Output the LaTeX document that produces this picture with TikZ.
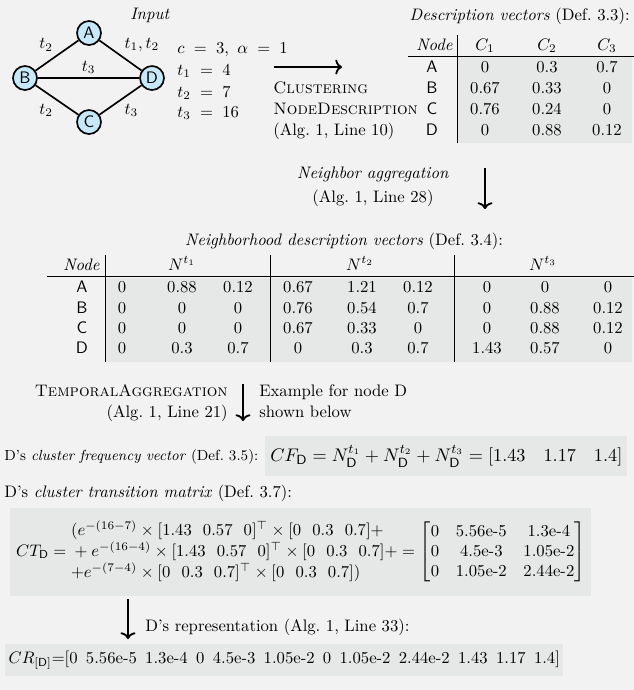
\documentclass[tikz,border=0pt]{standalone}
\usepackage{amsmath}
\usepackage{amssymb}
\usetikzlibrary{arrows,arrows.meta}

\definecolor{bggray}{RGB}{242,242,242}
\definecolor{cellgray}{RGB}{230,232,232}
\definecolor{vertexblue}{RGB}{198,232,248}

\newcommand{\ex}[2]{#1\text{e-}#2}

\begin{document}
\begin{tikzpicture}
  [x=0.6pt,y=-0.6pt,every node/.style={inner sep=0pt}]

  \tikzstyle{vertex} = [draw,circle,fill=vertexblue,line width=1pt,minimum size=14.4pt,font=\sffamily]
  \tikzstyle{lbl}  = [anchor=base]
  \tikzstyle{lblw} = [anchor=base west]
  \tikzstyle{lble} = [anchor=base east]
  \tikzstyle{flow} = [-{To[length=4pt,width=9pt]},line width=1.1pt]
  \tikzstyle{rule} = [line width=0.5pt]
  \tikzstyle{shade} = [fill=cellgray]

  \fill[bggray] (0,0) rectangle (634,690);
  \useasboundingbox (0,0) rectangle (634,690);

  % input graph
  \node[lbl] (input) at (150,19) {\textit{Input}};
  \node[vertex] (A) at (89,33)  {A};
  \node[vertex] (B) at (25,78)  {B};
  \node[vertex] (D) at (152,78) {D};
  \node[vertex] (C) at (89,122) {C};

  \path[line width=1pt]
        (B) edge node[auto,inner sep=2pt]      {$t_2$}       (A)
        (A) edge node[auto,inner sep=2pt]      {$t_1, t_2$}  (D)
        (B) edge node[auto,inner sep=2pt]      {$t_3$}       (D)
        (B) edge node[auto,swap,inner sep=2pt] {$t_2$}       (C)
        (C) edge node[auto,swap,inner sep=2pt] {$t_3$}       (D);

  \node[lblw] (par-c) at (177,53)  {$c \;=\; 3,\ \alpha \;=\; 1$};
  \node[lblw] (par-1) at (177,75)  {$t_1 \;=\; 4$};
  \node[lblw] (par-2) at (177,97)  {$t_2 \;=\; 7$};
  \node[lblw] (par-3) at (177,117) {$t_3 \;=\; 16$};

  % clustering step
  \coordinate (clu-s) at (274,67);
  \coordinate (clu-e) at (342,67);
  \draw[flow] (clu-s) -- (clu-e);
  \node[lblw] (clu-1) at (273,93)  {\textsc{Clustering}};
  \node[lblw] (clu-2) at (273,114) {\textsc{NodeDescription}};
  \node[lblw] (clu-3) at (273,135) {(Alg.~1, Line 10)};

  % description vectors
  \node[lble] (desc) at (630,20) {\textit{Description vectors} (Def.~3.3):};
  \fill[shade] (457,57) rectangle (632,143);
  \node[lble] (d-node) at (453,50) {\textit{Node}};
  \foreach \c/\x in {1/485,2/547,3/607}
    \node[lbl] (d-C\c) at (\x,50) {$C_\c$};
  \draw[rule] (457,35) -- (457,143);
  \draw[rule] (408,56) -- (634,56);
  \foreach \r/\y/\vals in {A/72/{0,0.3,0.7},B/93/{0.67,0.33,0},
                           C/114/{0.76,0.24,0},D/135/{0,0.88,0.12}}{
    \node[lbl,font=\sffamily] (d-\r) at (432,\y) {\r};
    \foreach \v [count=\i] in \vals {
      \pgfmathsetmacro\cx{{485,547,607}[\i-1]}
      \node[lbl] (d-\r-\i) at (\cx,\y) {\v};
    }
  }

  % neighbor aggregation
  \node[lbl] (agg-1) at (373,178) {\textit{Neighbor aggregation}};
  \node[lbl] (agg-2) at (373,202) {(Alg.~1, Line 28)};
  \coordinate (agg-s) at (485,168);
  \coordinate (agg-e) at (485,209);
  \draw[flow] (agg-s) -- (agg-e);

  % neighborhood description vectors
  \node[lbl] (nbh) at (344,245) {\textit{Neighborhood description vectors} (Def.~3.4):};
  \fill[shade] (105,278) rectangle (632,362);
  \node[lble] (n-node) at (100,270) {\textit{Node}};
  \foreach \t/\x in {1/182,2/360,3/543}
    \node[lbl] (n-N\t) at (\x,270) {$N^{t_\t}$};
  \foreach \x in {105,270,454}
    \draw[rule] (\x,255) -- (\x,362);
  \draw[rule] (47,276) -- (634,276);
  \foreach \r/\y/\vals in {A/292/{0,0.88,0.12,0.67,1.21,0.12,0,0,0},
                           B/313/{0,0,0,0.76,0.54,0.7,0,0.88,0.12},
                           C/333/{0,0,0,0.67,0.33,0,0,0.88,0.12},
                           D/353/{0,0.3,0.7,0,0.3,0.7,1.43,0.57,0}}{
    \node[lbl,font=\sffamily] (n-\r) at (82,\y) {\r};
    \foreach \v [count=\i] in \vals {
      \pgfmathsetmacro\cx{{122,182,238,298,362,418,487,545,608}[\i-1]}
      \node[lbl] (n-\r-\i) at (\cx,\y) {\v};
    }
  }

  % temporal aggregation
  \node[lble] (tmp-1) at (228,396) {\textsc{TemporalAggregation}};
  \node[lble] (tmp-2) at (228,417) {(Alg.~1, Line 21)};
  \coordinate (tmp-s) at (243,384);
  \coordinate (tmp-e) at (243,421);
  \draw[flow] (tmp-s) -- (tmp-e);
  \node[lblw] (ex-1) at (259,396) {Example for node D};
  \node[lblw] (ex-2) at (259,417) {shown below};

  % cluster frequency vector
  \node[lblw,font=\fontsize{8.8}{11}\selectfont] (cf-lbl) at (4,460) {D's \textit{cluster frequency vector} (Def.~3.5):};
  \node[fill=cellgray,anchor=west,inner xsep=3pt,minimum height=24pt,font=\fontsize{10.8}{13}\selectfont] (cf) at (265,456)
    {$CF_{\mathsf{D}} = N_{\mathsf{D}}^{t_1} + N_{\mathsf{D}}^{t_2} + N_{\mathsf{D}}^{t_3} = [1.43\ \ \ 1.17\ \ \ 1.4]$};

  % cluster transition matrix
  \node[lblw] (ct-lbl) at (4,497) {D's \textit{cluster transition matrix} (Def.~3.7):};
  \node[fill=cellgray,anchor=west,inner xsep=2pt,minimum height=52.8pt,minimum width=348.6pt] (ct) at (10,552)
    {$CT_{\mathsf{D}} = \begin{array}{@{}l@{}}
       (e^{-(16-7)} \times [1.43\ \ 0.57\ \ 0]^\top \times [0\ \ 0.3\ \ 0.7] + \\
       {}+ e^{-(16-4)} \times [1.43\ \ 0.57\ \ 0]^\top \times [0\ \ 0.3\ \ 0.7] + \\
       {+e^{-(7-4)}} \times [0\ \ 0.3\ \ 0.7]^\top \times [0\ \ 0.3\ \ 0.7])
     \end{array} = \begin{bmatrix}
       0 & \ex{5.56}{5} & \ex{1.3}{4} \\
       0 & \ex{4.5}{3} & \ex{1.05}{2} \\
       0 & \ex{1.05}{2} & \ex{2.44}{2}
     \end{bmatrix}$};

  % representation
  \coordinate (rep-s) at (128,599);
  \coordinate (rep-e) at (128,639);
  \draw[flow] (rep-s) -- (rep-e);
  \node[lblw] (rep) at (145,631) {D's representation (Alg.~1, Line 33):};
  \node[fill=cellgray,anchor=west,inner xsep=2pt,minimum height=19.2pt] (cr) at (5,660)
    {$CR_{[\mathsf{D}]}{=}[0\ \,\ex{5.56}{5}\ \,\ex{1.3}{4}\ \,0\ \,\ex{4.5}{3}\ \,\ex{1.05}{2}\ \,0\ \,\ex{1.05}{2}\ \,\ex{2.44}{2}\ \,1.43\ \,1.17\ \,1.4]$};
\end{tikzpicture}
\end{document}
